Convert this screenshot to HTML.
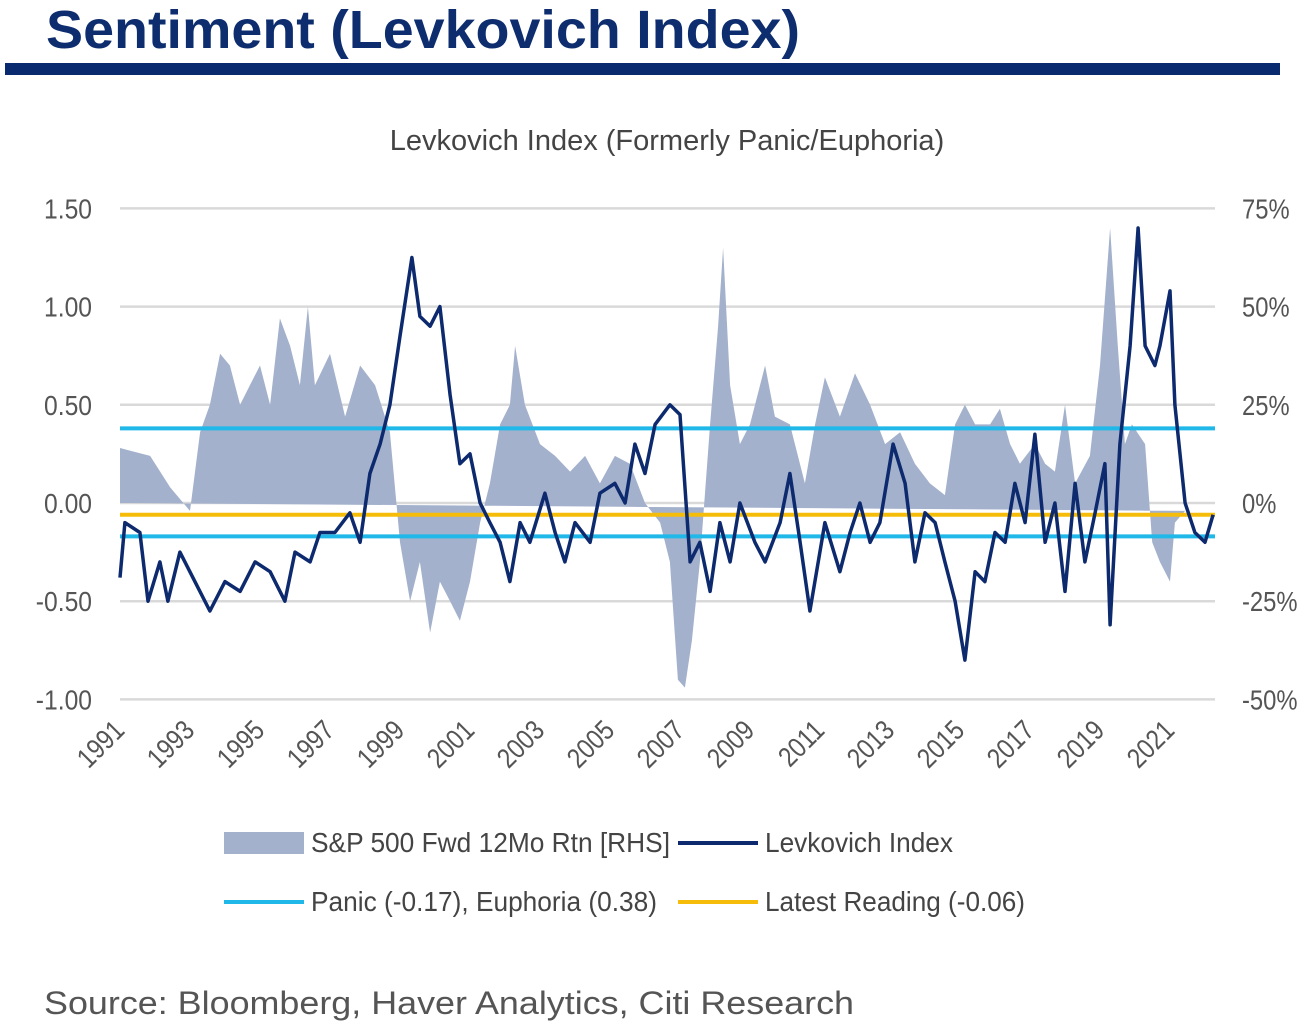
<!DOCTYPE html>
<html><head><meta charset="utf-8"><style>
html,body{margin:0;padding:0;background:#fff;}
svg{display:block;font-family:"Liberation Sans Narrow","Liberation Sans",sans-serif;}
</style></head><body>
<svg id="chart" width="1313" height="1029" viewBox="0 0 1313 1029">
<text x="46" y="48" font-family="Liberation Sans" font-weight="bold" font-size="54" textLength="754" lengthAdjust="spacingAndGlyphs" fill="#0d2d6e">Sentiment (Levkovich Index)</text>
<rect x="5" y="63" width="1275" height="12" fill="#0a2a70"/>
<text x="667" y="150" text-anchor="middle" font-size="29" fill="#444">Levkovich Index (Formerly Panic/Euphoria)</text>
<g id="grid"></g>
<g id="area"></g>
<g id="refs"></g>
<g id="line"></g>
<g id="axes"></g>
<g>
<rect x="224" y="832" width="80" height="22" fill="#a3b1cc"/>
<text x="311" y="852" font-size="28" fill="#444" textLength="359" lengthAdjust="spacingAndGlyphs">S&amp;P 500 Fwd 12Mo Rtn [RHS]</text>
<line x1="678" y1="843" x2="758" y2="843" stroke="#0d2a6e" stroke-width="4"/>
<text x="765" y="852" font-size="28" fill="#444" textLength="188" lengthAdjust="spacingAndGlyphs">Levkovich Index</text>
<line x1="224" y1="902" x2="304" y2="902" stroke="#1fb8e8" stroke-width="4"/>
<text x="311" y="911" font-size="28" fill="#444" textLength="346" lengthAdjust="spacingAndGlyphs">Panic (-0.17), Euphoria (0.38)</text>
<line x1="678" y1="902" x2="758" y2="902" stroke="#f5bd0a" stroke-width="4"/>
<text x="765" y="911" font-size="28" fill="#444" textLength="260" lengthAdjust="spacingAndGlyphs">Latest Reading (-0.06)</text>
</g>
<text x="44" y="1014" font-family="Liberation Sans" font-size="32" fill="#555" textLength="810" lengthAdjust="spacingAndGlyphs">Source: Bloomberg, Haver Analytics, Citi Research</text>
</svg>
<script>
const levYears=[1991,1991.14,1991.57,1991.8,1992.14,1992.37,1992.71,1993.14,1993.57,1994,1994.43,1994.86,1995.29,1995.71,1996,1996.43,1996.71,1997.14,1997.57,1997.86,1998.14,1998.43,1998.71,1999,1999.34,1999.57,1999.86,2000.14,2000.43,2000.71,2001,2001.29,2001.57,2001.86,2002.14,2002.43,2002.71,2003.14,2003.43,2003.71,2004,2004.43,2004.71,2005.14,2005.43,2005.71,2006,2006.29,2006.71,2007,2007.29,2007.57,2007.86,2008.14,2008.43,2008.71,2009.14,2009.43,2009.86,2010.14,2010.43,2010.71,2011.14,2011.57,2011.86,2012.14,2012.43,2012.71,2013.09,2013.43,2013.71,2014,2014.29,2014.57,2014.86,2015.14,2015.43,2015.71,2016,2016.29,2016.57,2016.86,2017.14,2017.43,2017.71,2018,2018.29,2018.57,2018.86,2019.14,2019.29,2019.57,2019.86,2020.09,2020.29,2020.57,2020.71,2021,2021.14,2021.43,2021.71,2022,2022.23];
const levValues=[-0.38,-0.1,-0.15,-0.5,-0.3,-0.5,-0.25,-0.4,-0.55,-0.4,-0.45,-0.3,-0.35,-0.5,-0.25,-0.3,-0.15,-0.15,-0.05,-0.2,0.15,0.3,0.5,0.85,1.25,0.95,0.9,1.0,0.55,0.2,0.25,0.0,-0.1,-0.2,-0.4,-0.1,-0.2,0.05,-0.15,-0.3,-0.1,-0.2,0.05,0.1,0.0,0.3,0.15,0.4,0.5,0.45,-0.3,-0.2,-0.45,-0.1,-0.3,0.0,-0.2,-0.3,-0.1,0.15,-0.2,-0.55,-0.1,-0.35,-0.15,0.0,-0.2,-0.1,0.3,0.1,-0.3,-0.05,-0.1,-0.3,-0.5,-0.8,-0.35,-0.4,-0.15,-0.2,0.1,-0.1,0.35,-0.2,0.0,-0.45,0.1,-0.3,-0.05,0.2,-0.62,0.3,0.8,1.4,0.8,0.7,0.8,1.08,0.5,0.0,-0.15,-0.2,-0.06];
const spYears=[1991,1991.86,1992.43,1993,1993.29,1993.57,1993.86,1994.14,1994.43,1994.71,1995,1995.29,1995.57,1995.86,1996.14,1996.37,1996.57,1997,1997.43,1997.86,1998.29,1998.71,1999,1999.29,1999.57,1999.86,2000.14,2000.43,2000.71,2001,2001.29,2001.57,2001.86,2002.14,2002.29,2002.57,2003,2003.43,2003.86,2004.29,2004.71,2005.14,2005.57,2006,2006.43,2006.71,2006.94,2007.14,2007.34,2007.57,2007.86,2008.09,2008.23,2008.43,2008.71,2009,2009.43,2009.71,2010.14,2010.57,2010.86,2011.14,2011.57,2012,2012.43,2012.86,2013.29,2013.71,2014.14,2014.57,2014.86,2015.14,2015.43,2015.86,2016.14,2016.43,2016.71,2017.14,2017.43,2017.71,2018,2018.29,2018.71,2019,2019.29,2019.51,2019.71,2019.91,2020.29,2020.49,2020.71,2021,2021.14,2021.43,2021.71];
const spValues=[14,12,4,-2,18,25,38,35,25,30,35,25,47,40,30,50,30,38,22,35,30,18,-10,-25,-15,-33,-20,-25,-30,-20,-5,5,20,25,40,25,15,12,8,12,5,12,10,0,-5,-15,-45,-47,-35,-15,20,45,65,30,15,20,35,22,20,5,20,32,22,33,25,15,18,10,5,2,20,25,20,20,24,15,10,15,10,8,25,5,12,35,70,40,15,20,15,-10,-15,-20,-5,-2];
const yTicksL=["1.50","1.00","0.50","0.00","-0.50","-1.00"];
const yTickVals=[1.5,1.0,0.5,0,-0.5,-1.0];
const yTicksR=["75%","50%","25%","0%","-25%","-50%"];
const xTickYears=[1991,1993,1995,1997,1999,2001,2003,2005,2007,2009,2011,2013,2015,2017,2019,2021];
const panic=-0.17, euphoria=0.38, latest=-0.06;

const NS="http://www.w3.org/2000/svg";
const X0=120,X1=1215;
const xs=t=>X0+(t-1991)*35;
const ys=v=>503-v*196.4;
const yr=p=>ys(p/50);
function mk(tag,attrs,parent){const e=document.createElementNS(NS,tag);for(const k in attrs)e.setAttribute(k,attrs[k]);parent.appendChild(e);return e;}
const G=id=>document.getElementById(id);
function squeeze(t,f){const w=t.getComputedTextLength();t.setAttribute('textLength',(w*f).toFixed(1));t.setAttribute('lengthAdjust','spacingAndGlyphs');}

yTickVals.forEach((v,i)=>{
  const l=mk('line',{x1:X0,x2:X1,y1:ys(v),y2:ys(v),stroke:'#d9d9d9','stroke-width':2.5},G('grid'));
  
  
  const t=mk('text',{x:92,y:ys(v)+10,'text-anchor':'end','font-size':28,fill:'#555'},G('axes'));
  t.textContent=yTicksL[i];
  
  
  squeeze(t,0.88);
  const r=mk('text',{x:1242,y:ys(v)+10,'font-size':28,fill:'#555'},G('axes'));
  r.textContent=yTicksR[i];
  
  
  squeeze(r,0.85);
});
xTickYears.forEach(yv=>{
  const x=xs(yv)+6;
  const t=mk('text',{x:x,y:732,'text-anchor':'end','font-size':28,fill:'#555',transform:`rotate(-45 ${x} 732)`},G('axes'));
  t.textContent=yv;
  
  
  squeeze(t,0.85);
});
let d=`M${xs(spYears[0])},${ys(0)}`;
spYears.forEach((t,i)=>{d+=` L${xs(t).toFixed(1)},${yr(spValues[i]).toFixed(1)}`;});
d+=` L${xs(spYears[spYears.length-1])},${ys(0)} Z`;
const a=mk('path',{d:d,fill:'#a3b1cc'},G('area'));


[[euphoria,'#1fb8e8','euphoria-line'],[panic,'#1fb8e8','panic-line'],[latest,'#f5bd0a','latest-reading-line']].forEach(r=>{
  const l=mk('line',{x1:X0,x2:X1,y1:ys(r[0]),y2:ys(r[0]),stroke:r[1],'stroke-width':4},G('refs'));
  
  
});
const pts=levYears.map((t,i)=>xs(t).toFixed(1)+','+ys(levValues[i]).toFixed(1)).join(' ');
const pl=mk('polyline',{points:pts,fill:'none',stroke:'#0d2a6e','stroke-width':3.5,'stroke-linejoin':'round'},G('line'));


</script>
</body></html>
